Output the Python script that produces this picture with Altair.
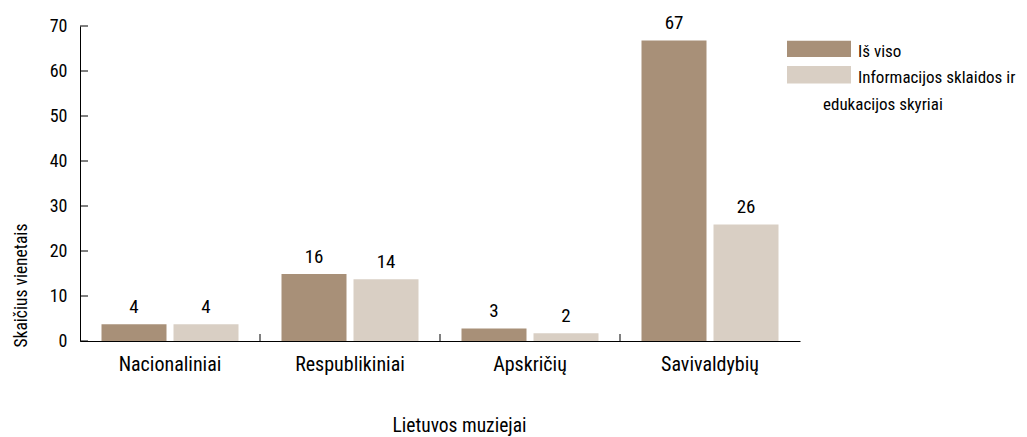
import altair as alt
import pandas as pd

categories = ["Nacionaliniai", "Respublikiniai", "Apskričių", "Savivaldybių"]
series = ["Iš viso", "Informacijos sklaidos ir edukacijos skyriai"]
values_total = [3.7, 14.9, 2.8, 66.8]
values_edu = [3.7, 13.7, 1.7, 25.9]
labels_total = ["4", "16", "3", "67"]
labels_edu = ["4", "14", "2", "26"]
y_ticks = [0, 10, 20, 30, 40, 50, 60, 70]
colors = ["#A89078", "#D9CFC4"]

FONT = "Roboto Condensed, DejaVu Sans Condensed"

rows = []
for i, c in enumerate(categories):
    rows.append({"cat": c, "series": series[0], "value": values_total[i], "label": labels_total[i]})
    rows.append({"cat": c, "series": series[1], "value": values_edu[i], "label": labels_edu[i]})
df = pd.DataFrame(rows)

W, H = 720, 315

xscale = alt.Scale(domain=categories, paddingInner=0, paddingOuter=0)
xoff = alt.Scale(domain=series, paddingInner=0.0972, paddingOuter=0.2986)
yscale = alt.Scale(domain=[0, 70], nice=False)
cscale = alt.Scale(domain=series, range=colors)

x_enc = alt.X(
    "cat:N", scale=xscale, sort=categories,
    axis=alt.Axis(
        title="Lietuvos muziejai", labelAngle=0, ticks=False, domainColor="#000",
        labelFont=FONT, labelFontSize=20, labelColor="#000", labelPadding=13,
        titleFont=FONT, titleFontSize=19.5, titleFontWeight="normal", titleColor="#000",
        titleX=379, titleY=90, titleAlign="center", titleBaseline="alphabetic",
    ),
)
y_enc = alt.Y(
    "value:Q", scale=yscale,
    axis=alt.Axis(
        title="Skaičius vienetais", values=y_ticks, ticks=False, grid=False,
        domainColor="#000", labelFont=FONT, labelFontSize=18, labelColor="#000",
        labelPadding=13,
        titleFont=FONT, titleFontSize=17.5, titleFontWeight="normal", titleColor="#000",
        titleAngle=-90, titleX=-54, titleY=321, titleAlign="left",
        titleBaseline="alphabetic",
    ),
)

bars = alt.Chart(df).mark_bar().encode(
    x=x_enc,
    xOffset=alt.XOffset("series:N", scale=xoff, sort=series),
    y=y_enc,
    color=alt.Color("series:N", sort=series, scale=cscale, legend=None),
)

text = alt.Chart(df).mark_text(
    baseline="alphabetic", dy=-11, font=FONT, fontSize=19, color="#000"
).encode(
    x=alt.X("cat:N", scale=xscale, sort=categories),
    xOffset=alt.XOffset("series:N", scale=xoff, sort=series),
    y=alt.Y("value:Q", scale=yscale),
    text="label:N",
)

ytick_df = pd.DataFrame({"v": y_ticks})
yticks = alt.Chart(ytick_df).mark_rule(color="#000", strokeWidth=1).encode(
    y=alt.Y("v:Q", scale=yscale),
    x=alt.value(0),
    x2=alt.value(8),
)

sep_df = pd.DataFrame({"cat": categories[1:]})
xticks = alt.Chart(sep_df).mark_rule(color="#000", strokeWidth=1).encode(
    x=alt.X("cat:N", scale=xscale, sort=categories, bandPosition=0),
    y=alt.value(H),
    y2=alt.value(H - 7),
)

# manual legend
LEG_FS = 17
leg_sw1 = alt.Chart(pd.DataFrame({"s": [series[0]]})).mark_rect().encode(
    x=alt.value(707), x2=alt.value(771), y=alt.value(14.7), y2=alt.value(31),
    color=alt.Color("s:N", scale=cscale, legend=None),
)
leg_sw2 = alt.Chart(pd.DataFrame({"s": [series[1]]})).mark_rect().encode(
    x=alt.value(707), x2=alt.value(771), y=alt.value(40), y2=alt.value(57.5),
    color=alt.Color("s:N", scale=cscale, legend=None),
)
leg_t1 = alt.Chart(pd.DataFrame({"t": ["Iš viso"]})).mark_text(
    align="left", baseline="alphabetic", font=FONT, fontSize=LEG_FS, color="#000"
).encode(x=alt.value(778), y=alt.value(30.7), text="t:N")
leg_t2 = alt.Chart(pd.DataFrame({"t": ["Informacijos sklaidos ir"]})).mark_text(
    align="left", baseline="alphabetic", font=FONT, fontSize=LEG_FS, color="#000"
).encode(x=alt.value(778), y=alt.value(57.3), text="t:N")
leg_t3 = alt.Chart(pd.DataFrame({"t": ["edukacijos skyriai"]})).mark_text(
    align="left", baseline="alphabetic", font=FONT, fontSize=LEG_FS, color="#000"
).encode(x=alt.value(743), y=alt.value(84), text="t:N")

chart = alt.layer(
    bars, text, yticks, xticks, leg_sw1, leg_sw2, leg_t1, leg_t2, leg_t3
).properties(
    width=W, height=H,
    autosize=alt.AutoSizeParams(type="none"),
    padding={"left": 72, "top": 18, "right": 219, "bottom": 95},
).configure_view(stroke=None).configure_axis(domainWidth=1)

chart.save("out.html", embed_options={"renderer": "svg", "actions": False})
